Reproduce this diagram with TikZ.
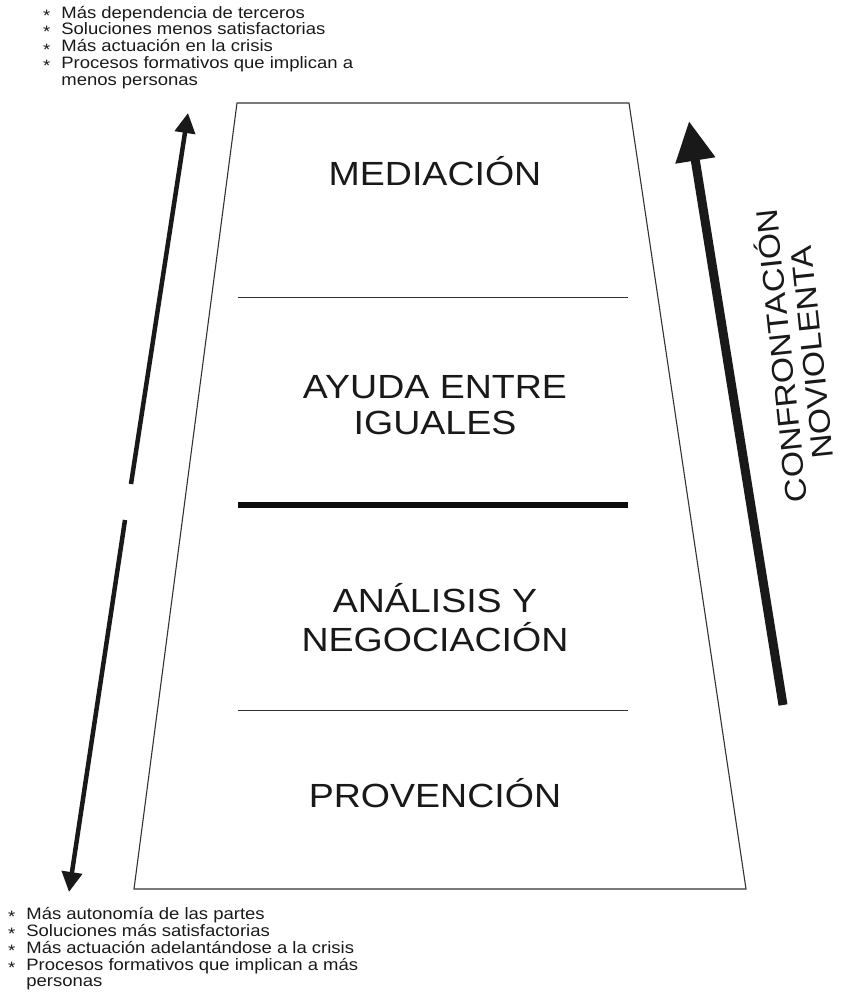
\documentclass[tikz,border=0pt]{standalone}
\usepackage{fontspec}
\setmainfont{Liberation Sans}
\newfontfamily\wfont[FakeStretch=1.12]{Liberation Sans}
\usetikzlibrary{arrows.meta}
\begin{document}
\begin{tikzpicture}[x=1pt,y=-1pt,
  edge/.style={draw=black!80, line width=1.1pt},
  divthin/.style={draw=black!80, line width=0.9pt},
  divthick/.style={draw=black!95, line width=6pt},
  biglabel/.style={anchor=base, inner sep=0pt, font=\wfont\fontsize{33.5}{36}\selectfont, text=black!90},
  notes/.style={anchor=base west, inner sep=0pt, font=\wfont\fontsize{16.5}{16.4}\selectfont, text=black!90},
  sidearrow/.style={draw=black!90, line width=4.5pt, -{Triangle[length=20pt,width=20pt]}},
  bigarrow/.style={draw=black!90, line width=9pt, -{Triangle[length=40pt,width=38pt]}},
  sidelabel/.style={inner sep=0pt, rotate=96, font=\wfont\fontsize{30}{31}\selectfont, text=black!90}
]
\path[use as bounding box] (0,0) rectangle (846,994);
% trapezoid
\coordinate (tl) at (237,103);
\coordinate (tr) at (629,103);
\coordinate (br) at (746,889);
\coordinate (bl) at (134,889);
\draw[edge] (tl) -- (tr) -- (br) -- (bl) -- cycle;
% dividers
\coordinate (d1l) at (238,297); \coordinate (d1r) at (628,297);
\coordinate (d2l) at (238,505); \coordinate (d2r) at (628,505);
\coordinate (d3l) at (238,710); \coordinate (d3r) at (628,710);
\draw[divthin] (d1l) -- (d1r);
\draw[divthick] (d2l) -- (d2r);
\draw[divthin] (d3l) -- (d3r);
% labels
\node[biglabel] (med) at (435,185) {MEDIACIÓN};
\node[biglabel] (ayu) at (435,398) {\begin{tabular}[t]{@{}c@{}}AYUDA ENTRE\\IGUALES\end{tabular}};
\node[biglabel] (ana) at (435,612) {\begin{tabular}[t]{@{}c@{}}ANÁLISIS Y\\NEGOCIACIÓN\end{tabular}};
\node[biglabel] (pro) at (435,807) {PROVENCIÓN};
% left arrows
\coordinate (lu0) at (131,484); \coordinate (lu1) at (188,113);
\coordinate (ld0) at (125,520); \coordinate (ld1) at (69,892);
\draw[sidearrow] (lu0) -- (lu1);
\draw[sidearrow] (ld0) -- (ld1);
% right arrow
\coordinate (r0) at (783,705); \coordinate (r1) at (689,121);
\draw[bigarrow] (r0) -- (r1);
\node[sidelabel] (conf) at (799,354) {\begin{tabular}{@{}c@{}}CONFRONTACIÓN\\NOVIOLENTA\end{tabular}};
% notes
\node[notes] (top) at (43,18) {\begin{tabular}[t]{@{}l@{\hspace{11pt}}l@{}}
\raisebox{-0.35ex}{*} & Más dependencia de terceros\\
\raisebox{-0.35ex}{*} & Soluciones menos satisfactorias\\
\raisebox{-0.35ex}{*} & Más actuación en la crisis\\
\raisebox{-0.35ex}{*} & Procesos formativos que implican a\\
 & menos personas\end{tabular}};
\node[notes] (bot) at (8,919) {\begin{tabular}[t]{@{}l@{\hspace{11pt}}l@{}}
\raisebox{-0.35ex}{*} & Más autonomía de las partes\\
\raisebox{-0.35ex}{*} & Soluciones más satisfactorias\\
\raisebox{-0.35ex}{*} & Más actuación adelantándose a la crisis\\
\raisebox{-0.35ex}{*} & Procesos formativos que implican a más\\
 & personas\end{tabular}};
\end{tikzpicture}
\end{document}
